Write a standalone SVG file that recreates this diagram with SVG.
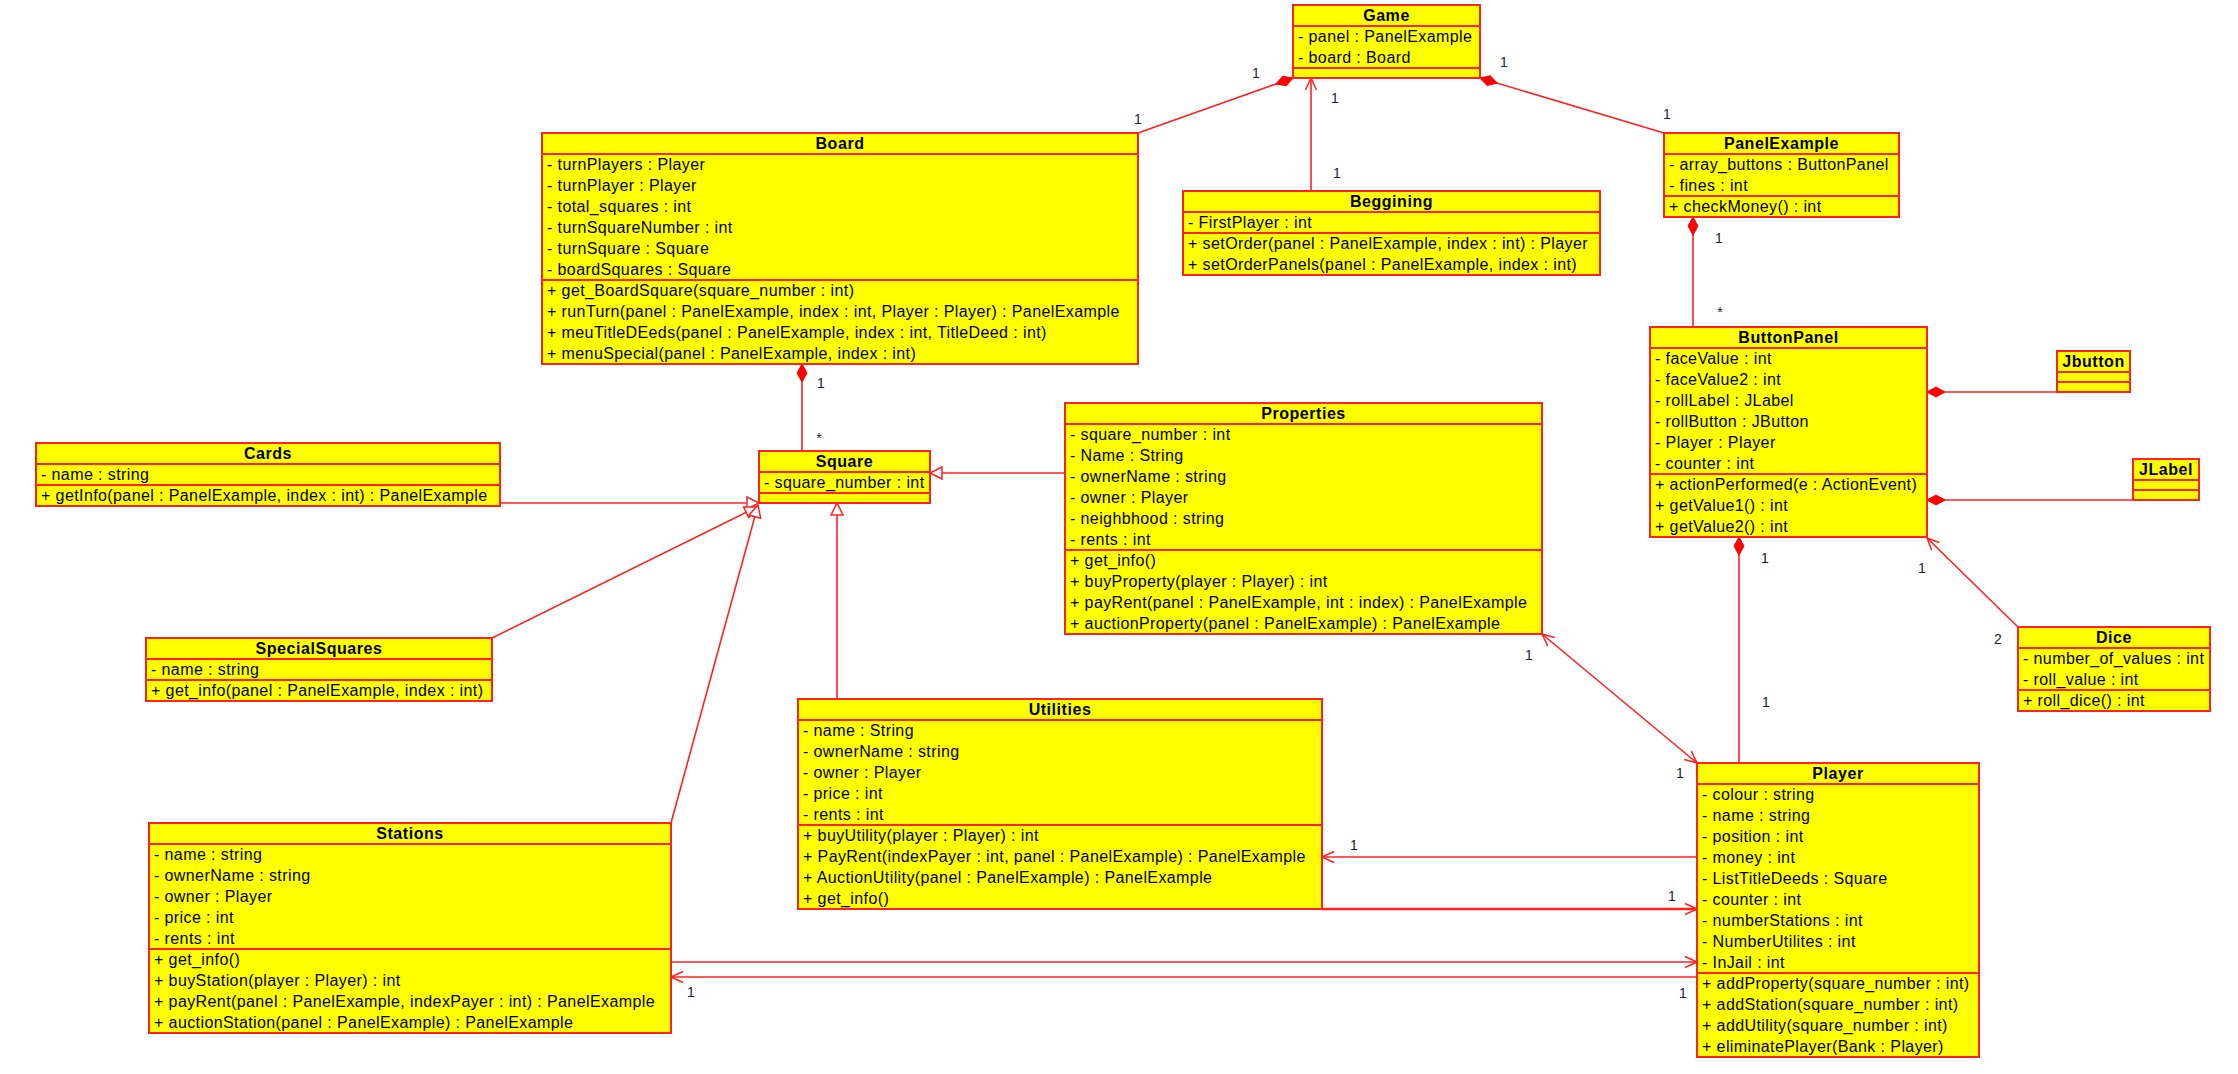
<svg xmlns="http://www.w3.org/2000/svg" width="2238" height="1074" viewBox="0 0 2238 1074">
<style>
.box{fill:#ffff00;stroke:#ff2020;stroke-width:2}
.sep{stroke:#ff2020;stroke-width:2}
.t{font-family:"Liberation Sans",Arial,sans-serif;font-size:16px;letter-spacing:0.4px;fill:#000}
.h{font-family:"Liberation Sans",Arial,sans-serif;font-size:16px;font-weight:bold;letter-spacing:0.55px;fill:#000;text-anchor:middle}
.m{font-family:"Liberation Sans",Arial,sans-serif;font-size:14px;fill:#1a1a33;text-anchor:middle}
.c{fill:none;stroke:#ff2020;stroke-width:1.6}
.cb{fill:none;stroke:#ff2020;stroke-width:2.6}
</style>
<defs>
<marker id="dia" markerUnits="userSpaceOnUse" viewBox="0 0 20 12" refX="0" refY="6" markerWidth="20" markerHeight="12" orient="auto" overflow="visible"><path d="M0,6 L9,1 L18,6 L9,11 Z" fill="#ff0000" stroke="#ff0000" stroke-width="1"/></marker>
<marker id="arr" markerUnits="userSpaceOnUse" viewBox="0 0 12 12" refX="12" refY="6" markerWidth="12" markerHeight="12" orient="auto-start-reverse" overflow="visible"><path d="M0,0.5 L12,6 L0,11.5" fill="none" stroke="#ff2020" stroke-width="1.5"/></marker>
<marker id="tri" markerUnits="userSpaceOnUse" viewBox="0 0 12 12" refX="12" refY="6" markerWidth="12" markerHeight="12" orient="auto" overflow="visible"><path d="M0,0 L12,6 L0,12 Z" fill="#ffffff" stroke="#ff2020" stroke-width="1.5"/></marker>
</defs>
<rect x="0" y="0" width="2238" height="1074" fill="#ffffff"/>
<g id="connectors">
<path class="c" d="M1293,78 L1138,133" marker-start="url(#dia)"/>
<path class="c" d="M1480,78 L1664,133" marker-start="url(#dia)"/>
<path class="c" d="M1311,191 L1311,78" marker-end="url(#arr)"/>
<path class="c" d="M1693,217 L1693,327" marker-start="url(#dia)"/>
<path class="c" d="M1927,392 L2057,392" marker-start="url(#dia)"/>
<path class="c" d="M1927,500 L2133,500" marker-start="url(#dia)"/>
<path class="c" d="M1739,537 L1739,763" marker-start="url(#dia)"/>
<path class="c" d="M2018,627 L1927,538" marker-end="url(#arr)"/>
<path class="c" d="M1542,634 L1697,763" marker-start="url(#arr)" marker-end="url(#arr)"/>
<path class="c" d="M802,364 L802,451" marker-start="url(#dia)"/>
<path class="c" d="M1065,473 L930,473" marker-end="url(#tri)"/>
<path class="c" d="M837,699 L837,503" marker-end="url(#tri)"/>
<path class="c" d="M500,503 L759,503" marker-end="url(#tri)"/>
<path class="c" d="M492,638 L757,507" marker-end="url(#tri)"/>
<path class="c" d="M671,823 L758,505" marker-end="url(#tri)"/>
<path class="c" d="M1697,857 L1322,857" marker-end="url(#arr)"/>
<path class="cb" d="M1322,909 L1697,909" marker-end="url(#arr)"/>
<path class="c" d="M671,962 L1697,962" marker-end="url(#arr)"/>
<path class="c" d="M1697,977 L671,977" marker-end="url(#arr)"/>
<text class="m" x="1256" y="78">1</text>
<text class="m" x="1138" y="124">1</text>
<text class="m" x="1504" y="67">1</text>
<text class="m" x="1667" y="119">1</text>
<text class="m" x="1335" y="103">1</text>
<text class="m" x="1337" y="178">1</text>
<text class="m" x="1719" y="243">1</text>
<text class="m" x="1720" y="317">*</text>
<text class="m" x="1765" y="563">1</text>
<text class="m" x="1766" y="707">1</text>
<text class="m" x="1922" y="573">1</text>
<text class="m" x="1998" y="644">2</text>
<text class="m" x="1529" y="660">1</text>
<text class="m" x="1680" y="778">1</text>
<text class="m" x="821" y="388">1</text>
<text class="m" x="819" y="443">*</text>
<text class="m" x="1354" y="850">1</text>
<text class="m" x="1672" y="901">1</text>
<text class="m" x="1683" y="998">1</text>
<text class="m" x="691" y="997">1</text>
</g>
<g id="Game">
<rect class="box" x="1293" y="5" width="187" height="73"/>
<line class="sep" x1="1293" y1="26" x2="1480" y2="26"/>
<line class="sep" x1="1293" y1="68" x2="1480" y2="68"/>
<text class="h" x="1386.5" y="21">Game</text>
<text class="t" x="1298" y="42">- panel : PanelExample</text>
<text class="t" x="1298" y="63">- board : Board</text>
</g>
<g id="Board">
<rect class="box" x="542" y="133" width="596" height="231"/>
<line class="sep" x1="542" y1="154" x2="1138" y2="154"/>
<line class="sep" x1="542" y1="280" x2="1138" y2="280"/>
<text class="h" x="840" y="149">Board</text>
<text class="t" x="547" y="170">- turnPlayers : Player</text>
<text class="t" x="547" y="191">- turnPlayer : Player</text>
<text class="t" x="547" y="212">- total_squares : int</text>
<text class="t" x="547" y="233">- turnSquareNumber : int</text>
<text class="t" x="547" y="254">- turnSquare : Square</text>
<text class="t" x="547" y="275">- boardSquares : Square</text>
<text class="t" x="547" y="296">+ get_BoardSquare(square_number : int)</text>
<text class="t" x="547" y="317">+ runTurn(panel : PanelExample, index : int, Player : Player) : PanelExample</text>
<text class="t" x="547" y="338">+ meuTitleDEeds(panel : PanelExample, index : int, TitleDeed : int)</text>
<text class="t" x="547" y="359">+ menuSpecial(panel : PanelExample, index : int)</text>
</g>
<g id="Beggining">
<rect class="box" x="1183" y="191" width="417" height="84"/>
<line class="sep" x1="1183" y1="212" x2="1600" y2="212"/>
<line class="sep" x1="1183" y1="233" x2="1600" y2="233"/>
<text class="h" x="1391.5" y="207">Beggining</text>
<text class="t" x="1188" y="228">- FirstPlayer : int</text>
<text class="t" x="1188" y="249">+ setOrder(panel : PanelExample, index : int) : Player</text>
<text class="t" x="1188" y="270">+ setOrderPanels(panel : PanelExample, index : int)</text>
</g>
<g id="PanelExample">
<rect class="box" x="1664" y="133" width="235" height="84"/>
<line class="sep" x1="1664" y1="154" x2="1899" y2="154"/>
<line class="sep" x1="1664" y1="196" x2="1899" y2="196"/>
<text class="h" x="1781.5" y="149">PanelExample</text>
<text class="t" x="1669" y="170">- array_buttons : ButtonPanel</text>
<text class="t" x="1669" y="191">- fines : int</text>
<text class="t" x="1669" y="212">+ checkMoney() : int</text>
</g>
<g id="ButtonPanel">
<rect class="box" x="1650" y="327" width="277" height="210"/>
<line class="sep" x1="1650" y1="348" x2="1927" y2="348"/>
<line class="sep" x1="1650" y1="474" x2="1927" y2="474"/>
<text class="h" x="1788.5" y="343">ButtonPanel</text>
<text class="t" x="1655" y="364">- faceValue : int</text>
<text class="t" x="1655" y="385">- faceValue2 : int</text>
<text class="t" x="1655" y="406">- rollLabel : JLabel</text>
<text class="t" x="1655" y="427">- rollButton : JButton</text>
<text class="t" x="1655" y="448">- Player : Player</text>
<text class="t" x="1655" y="469">- counter : int</text>
<text class="t" x="1655" y="490">+ actionPerformed(e : ActionEvent)</text>
<text class="t" x="1655" y="511">+ getValue1() : int</text>
<text class="t" x="1655" y="532">+ getValue2() : int</text>
</g>
<g id="Jbutton">
<rect class="box" x="2057" y="351" width="73" height="41"/>
<line class="sep" x1="2057" y1="372" x2="2130" y2="372"/>
<line class="sep" x1="2057" y1="382" x2="2130" y2="382"/>
<text class="h" x="2093.5" y="367">Jbutton</text>
</g>
<g id="JLabel">
<rect class="box" x="2133" y="459" width="66" height="41"/>
<line class="sep" x1="2133" y1="480" x2="2199" y2="480"/>
<line class="sep" x1="2133" y1="490" x2="2199" y2="490"/>
<text class="h" x="2166" y="475">JLabel</text>
</g>
<g id="Cards">
<rect class="box" x="36" y="443" width="464" height="63"/>
<line class="sep" x1="36" y1="464" x2="500" y2="464"/>
<line class="sep" x1="36" y1="485" x2="500" y2="485"/>
<text class="h" x="268" y="459">Cards</text>
<text class="t" x="41" y="480">- name : string</text>
<text class="t" x="41" y="501">+ getInfo(panel : PanelExample, index : int) : PanelExample</text>
</g>
<g id="Square">
<rect class="box" x="759" y="451" width="171" height="52"/>
<line class="sep" x1="759" y1="472" x2="930" y2="472"/>
<line class="sep" x1="759" y1="493" x2="930" y2="493"/>
<text class="h" x="844.5" y="467">Square</text>
<text class="t" x="764" y="488">- square_number : int</text>
</g>
<g id="Properties">
<rect class="box" x="1065" y="403" width="477" height="231"/>
<line class="sep" x1="1065" y1="424" x2="1542" y2="424"/>
<line class="sep" x1="1065" y1="550" x2="1542" y2="550"/>
<text class="h" x="1303.5" y="419">Properties</text>
<text class="t" x="1070" y="440">- square_number : int</text>
<text class="t" x="1070" y="461">- Name : String</text>
<text class="t" x="1070" y="482">- ownerName : string</text>
<text class="t" x="1070" y="503">- owner : Player</text>
<text class="t" x="1070" y="524">- neighbhood : string</text>
<text class="t" x="1070" y="545">- rents : int</text>
<text class="t" x="1070" y="566">+ get_info()</text>
<text class="t" x="1070" y="587">+ buyProperty(player : Player) : int</text>
<text class="t" x="1070" y="608">+ payRent(panel : PanelExample, int : index) : PanelExample</text>
<text class="t" x="1070" y="629">+ auctionProperty(panel : PanelExample) : PanelExample</text>
</g>
<g id="SpecialSquares">
<rect class="box" x="146" y="638" width="346" height="63"/>
<line class="sep" x1="146" y1="659" x2="492" y2="659"/>
<line class="sep" x1="146" y1="680" x2="492" y2="680"/>
<text class="h" x="319" y="654">SpecialSquares</text>
<text class="t" x="151" y="675">- name : string</text>
<text class="t" x="151" y="696">+ get_info(panel : PanelExample, index : int)</text>
</g>
<g id="Utilities">
<rect class="box" x="798" y="699" width="524" height="210"/>
<line class="sep" x1="798" y1="720" x2="1322" y2="720"/>
<line class="sep" x1="798" y1="825" x2="1322" y2="825"/>
<text class="h" x="1060" y="715">Utilities</text>
<text class="t" x="803" y="736">- name : String</text>
<text class="t" x="803" y="757">- ownerName : string</text>
<text class="t" x="803" y="778">- owner : Player</text>
<text class="t" x="803" y="799">- price : int</text>
<text class="t" x="803" y="820">- rents : int</text>
<text class="t" x="803" y="841">+ buyUtility(player : Player) : int</text>
<text class="t" x="803" y="862">+ PayRent(indexPayer : int, panel : PanelExample) : PanelExample</text>
<text class="t" x="803" y="883">+ AuctionUtility(panel : PanelExample) : PanelExample</text>
<text class="t" x="803" y="904">+ get_info()</text>
</g>
<g id="Stations">
<rect class="box" x="149" y="823" width="522" height="210"/>
<line class="sep" x1="149" y1="844" x2="671" y2="844"/>
<line class="sep" x1="149" y1="949" x2="671" y2="949"/>
<text class="h" x="410" y="839">Stations</text>
<text class="t" x="154" y="860">- name : string</text>
<text class="t" x="154" y="881">- ownerName : string</text>
<text class="t" x="154" y="902">- owner : Player</text>
<text class="t" x="154" y="923">- price : int</text>
<text class="t" x="154" y="944">- rents : int</text>
<text class="t" x="154" y="965">+ get_info()</text>
<text class="t" x="154" y="986">+ buyStation(player : Player) : int</text>
<text class="t" x="154" y="1007">+ payRent(panel : PanelExample, indexPayer : int) : PanelExample</text>
<text class="t" x="154" y="1028">+ auctionStation(panel : PanelExample) : PanelExample</text>
</g>
<g id="Player">
<rect class="box" x="1697" y="763" width="282" height="294"/>
<line class="sep" x1="1697" y1="784" x2="1979" y2="784"/>
<line class="sep" x1="1697" y1="973" x2="1979" y2="973"/>
<text class="h" x="1838" y="779">Player</text>
<text class="t" x="1702" y="800">- colour : string</text>
<text class="t" x="1702" y="821">- name : string</text>
<text class="t" x="1702" y="842">- position : int</text>
<text class="t" x="1702" y="863">- money : int</text>
<text class="t" x="1702" y="884">- ListTitleDeeds : Square</text>
<text class="t" x="1702" y="905">- counter : int</text>
<text class="t" x="1702" y="926">- numberStations : int</text>
<text class="t" x="1702" y="947">- NumberUtilites : int</text>
<text class="t" x="1702" y="968">- InJail : int</text>
<text class="t" x="1702" y="989">+ addProperty(square_number : int)</text>
<text class="t" x="1702" y="1010">+ addStation(square_number : int)</text>
<text class="t" x="1702" y="1031">+ addUtility(square_number : int)</text>
<text class="t" x="1702" y="1052">+ eliminatePlayer(Bank : Player)</text>
</g>
<g id="Dice">
<rect class="box" x="2018" y="627" width="192" height="84"/>
<line class="sep" x1="2018" y1="648" x2="2210" y2="648"/>
<line class="sep" x1="2018" y1="690" x2="2210" y2="690"/>
<text class="h" x="2114" y="643">Dice</text>
<text class="t" x="2023" y="664">- number_of_values : int</text>
<text class="t" x="2023" y="685">- roll_value : int</text>
<text class="t" x="2023" y="706">+ roll_dice() : int</text>
</g>
</svg>
